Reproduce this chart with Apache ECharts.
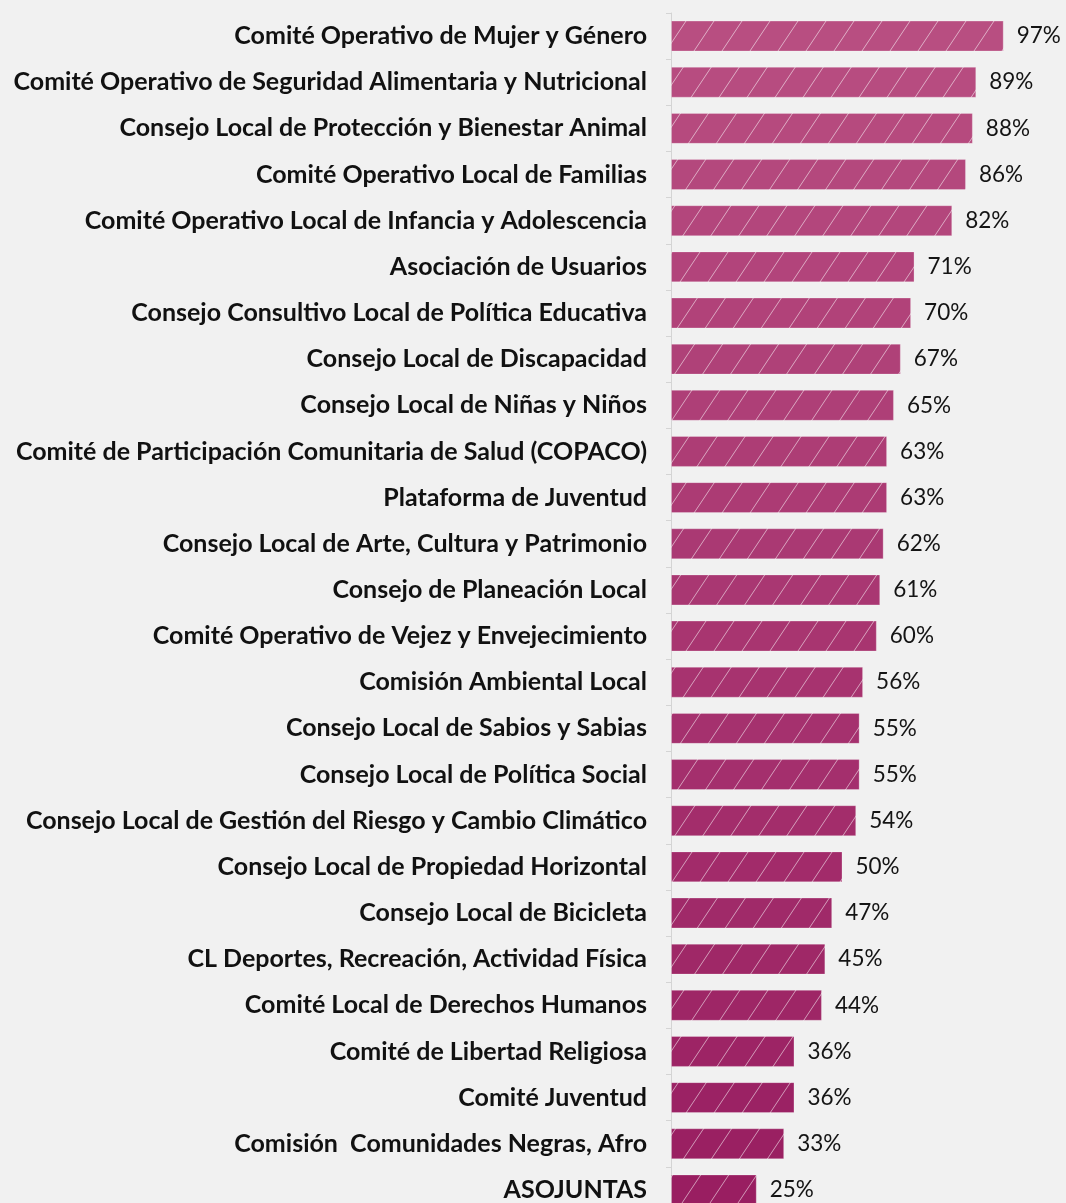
<!DOCTYPE html>
<html>
<head>
<meta charset="utf-8">
<script src="https://cdn.jsdelivr.net/npm/echarts@6/dist/echarts.min.js"></script>
<style>
  html, body { margin: 0; padding: 0; background: #f1f1f1; overflow: hidden; }
  #main { width: 1066px; height: 1213px; }
</style>
</head>
<body>
<div id="main"></div>
<script>
  // instancias, de arriba hacia abajo
  var categories = [
    'Comité Operativo de Mujer y Género',
    'Comité Operativo de Seguridad Alimentaria y Nutricional',
    'Consejo Local de Protección y Bienestar Animal',
    'Comité Operativo Local de Familias',
    'Comité Operativo Local de Infancia y Adolescencia',
    'Asociación de Usuarios',
    'Consejo Consultivo Local de Política Educativa',
    'Consejo Local de Discapacidad',
    'Consejo Local de Niñas y Niños',
    'Comité de Participación Comunitaria de Salud (COPACO)',
    'Plataforma de Juventud',
    'Consejo Local de Arte, Cultura y Patrimonio',
    'Consejo de Planeación Local',
    'Comité Operativo de Vejez y Envejecimiento',
    'Comisión Ambiental Local',
    'Consejo Local de Sabios y Sabias',
    'Consejo Local de Política Social',
    'Consejo Local de Gestión del Riesgo y Cambio Climático',
    'Consejo Local de Propiedad Horizontal',
    'Consejo Local de Bicicleta',
    'CL Deportes, Recreación, Actividad Física',
    'Comité Local de Derechos Humanos',
    'Comité de Libertad Religiosa',
    'Comité Juventud',
    'Comisión  Comunidades Negras, Afro',
    'ASOJUNTAS'
  ];
  var values = [97, 89, 88, 86, 82, 71, 70, 67, 65, 63, 63, 62, 61, 60, 56, 55, 55, 54, 50, 47, 45, 44, 36, 36, 33, 25];

  var colorTop = [184, 78, 129];
  var colorBottom = [153, 30, 97];

  function mix(t) {
    var c = [];
    for (var k = 0; k < 3; k++) {
      c.push(Math.round(colorTop[k] + (colorBottom[k] - colorTop[k]) * t));
    }
    return 'rgb(' + c.join(',') + ')';
  }

  // rayado diagonal blanco
  function hatch(color) {
    var w = 28, h = 42;
    var cv = document.createElement('canvas');
    cv.width = w; cv.height = h;
    var ctx = cv.getContext('2d');
    ctx.fillStyle = color;
    ctx.fillRect(0, 0, w, h);
    ctx.strokeStyle = 'rgba(255,255,255,0.55)';
    ctx.lineWidth = 1;
    ctx.beginPath();
    ctx.moveTo(-w, h); ctx.lineTo(0, 0);
    ctx.moveTo(0, h); ctx.lineTo(w, 0);
    ctx.moveTo(w, h); ctx.lineTo(2 * w, 0);
    ctx.stroke();
    return cv;
  }

  var barData = values.map(function (v, i) {
    return {
      value: v,
      itemStyle: {
        color: { image: hatch(mix(i / (values.length - 1))), repeat: 'repeat' },
        borderColor: 'rgba(255,255,255,0.25)',
        borderWidth: 1
      }
    };
  });

  var chart = echarts.init(document.getElementById('main'));
  var option = {
    backgroundColor: '#f1f1f1',
    animation: false,
    grid: { left: 671, right: 52, top: 13, bottom: 0, containLabel: false },
    xAxis: {
      type: 'value',
      min: 0,
      max: 100,
      show: false
    },
    yAxis: {
      type: 'category',
      inverse: true,
      data: categories,
      axisLine: { show: true, lineStyle: { color: '#d4d4d4', width: 1 } },
      axisTick: { show: true, length: 5, lineStyle: { color: '#d4d4d4' } },
      axisLabel: {
        margin: 24,
        fontFamily: 'Lato',
        fontWeight: 'bold',
        fontSize: 25,
        color: '#111111'
      }
    },
    series: [{
      type: 'bar',
      data: barData,
      barCategoryGap: '33%',
      label: {
        show: true,
        position: 'right',
        distance: 13,
        formatter: '{c}%',
        fontFamily: 'Lato',
        fontSize: 22.5,
        color: '#141414'
      }
    }]
  };
  chart.setOption(option);
</script>
</body>
</html>
